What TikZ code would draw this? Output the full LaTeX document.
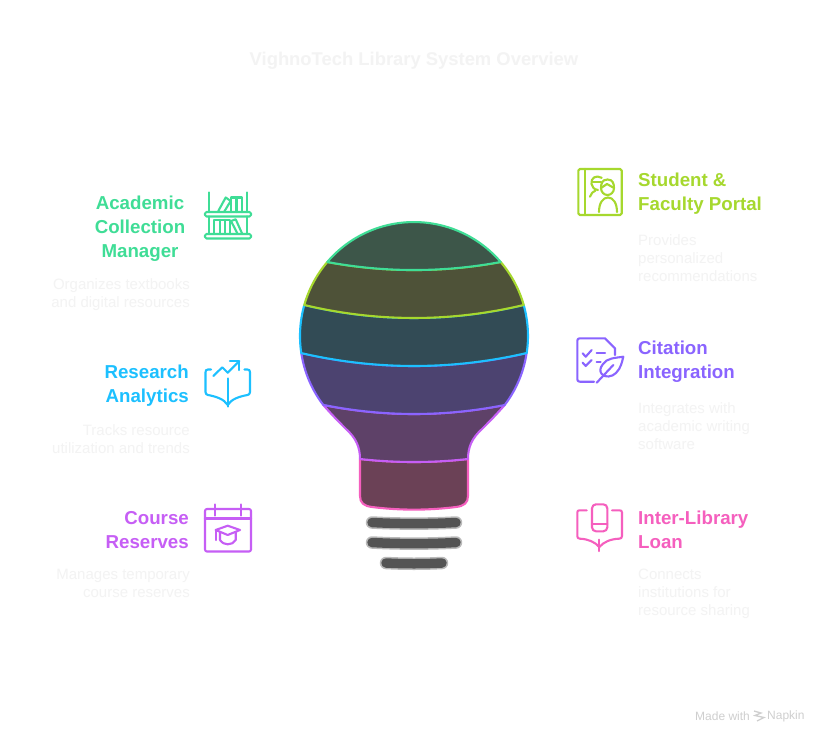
\documentclass[tikz,border=0pt]{standalone}
\usepackage{fontspec}
\setmainfont{Liberation Sans}
\definecolor{cgreen}{HTML}{3FDD96}
\definecolor{clime}{HTML}{A6D82E}
\definecolor{ccyan}{HTML}{1CC0FF}
\definecolor{cpurple}{HTML}{8A64FF}
\definecolor{cviolet}{HTML}{C65EF5}
\definecolor{cpink}{HTML}{F55FBE}
\definecolor{HTMLgreen}{HTML}{3D5649}
\definecolor{HTMLlime}{HTML}{4E5238}
\definecolor{HTMLcyan}{HTML}{324B55}
\definecolor{HTMLpurple}{HTML}{4C4370}
\definecolor{HTMLviolet}{HTML}{5E4168}
\definecolor{HTMLpink}{HTML}{6B4156}
\definecolor{faint}{HTML}{F3F3F3}
\definecolor{brand}{HTML}{CFCFCF}
\tikzset{
  seg/.style={line width=2.1pt,line join=round},
  ico/.style={line width=2.1pt,line cap=round,line join=round},
  head/.style={font=\fontsize{18.7}{24}\selectfont\bfseries,inner sep=0pt},
  headL/.style={head,align=right,anchor=east},
  headR/.style={head,align=left,anchor=west},
  desc/.style={font=\fontsize{15}{18}\selectfont,text=faint,inner sep=0pt},
  descL/.style={desc,align=right,anchor=east},
  descR/.style={desc,align=left,anchor=west},
  barout/.style={line width=12.5pt,line cap=round,draw=black!27},
  barin/.style={line width=9.5pt,line cap=round,draw=black!67},
}
\begin{document}
\begin{tikzpicture}[x=1pt,y=1pt,yscale=-1]
\useasboundingbox[fill=white] (0,0) rectangle (828,744);
\coordinate (pA) at (327.3,262);
\coordinate (pB) at (500.7,262);
% title
\node[font=\fontsize{18.4}{24}\selectfont\bfseries,text=faint,inner sep=0pt] (title) at (414,61) {VighnoTech Library System Overview};
% bulb, bottom to top
\draw[seg,draw=cpink,fill=HTMLpink] (360,459) .. controls (396,463) and (432,463) .. (468,459) -- (468,496)
  .. controls (468,503) and (464,506) .. (456,507) .. controls (428,510.5) and (400,510.5) .. (372,507)
  .. controls (364,506) and (360,503) .. (360,496) -- cycle;
\draw[seg,draw=cviolet,fill=HTMLviolet] (323.3,405) .. controls (332,415) and (340,423) .. (346,429)
  .. controls (356,438) and (360,447) .. (360,459) .. controls (396,463) and (432,463) .. (468,459)
  .. controls (468,447) and (472,438) .. (482,429) .. controls (488,423) and (496,415) .. (504.7,405)
  .. controls (444,417) and (384,417) .. (323.3,405) -- cycle;
\draw[seg,draw=cpurple,fill=HTMLpurple] (301.3,353) arc[start angle=171.4,end angle=142.8,radius=114pt]
  .. controls (384,417) and (444,417) .. (504.7,405) arc[start angle=37.2,end angle=8.6,radius=114pt]
  .. controls (452,370.3) and (376,370.3) .. (301.3,353) -- cycle;
\draw[seg,draw=ccyan,fill=HTMLcyan] (304.3,305) arc[start angle=195.8,end angle=171.4,radius=114pt]
  .. controls (376,370.3) and (452,370.3) .. (526.7,353) arc[start angle=8.6,end angle=-15.8,radius=114pt]
  .. controls (451,322.3) and (377,322.3) .. (304.3,305) -- cycle;
\draw[seg,draw=clime,fill=HTMLlime] (pA) arc[start angle=220.5,end angle=195.8,radius=114pt]
  .. controls (377,322.3) and (451,322.3) .. (523.7,305) arc[start angle=-15.8,end angle=-40.5,radius=114pt]
  .. controls (443,272.7) and (385,272.7) .. (pA) -- cycle;
\draw[seg,draw=cgreen,fill=HTMLgreen] (pA) arc[start angle=220.5,end angle=319.5,radius=114pt]
  .. controls (443,272.7) and (385,272.7) .. (pA) -- cycle;
% base bars
\draw[barout] (372,522.5) .. controls (400,524) and (428,524) .. (456,522.5);
\draw[barin]  (372,522.5) .. controls (400,524) and (428,524) .. (456,522.5);
\draw[barout] (372,542.5) .. controls (400,544) and (428,544) .. (456,542.5);
\draw[barin]  (372,542.5) .. controls (400,544) and (428,544) .. (456,542.5);
\draw[barout] (386,563) .. controls (405,564) and (423,564) .. (442,563);
\draw[barin]  (386,563) .. controls (405,564) and (423,564) .. (442,563);
% left labels
\node[head,align=center,text=cgreen] (lab1) at (140,229) {Academic\\Collection\\Manager};
\node[descL] (des1) at (190,295) {Organizes textbooks\\and digital resources};
\node[headL,text=ccyan] (lab2) at (189,386) {Research\\Analytics};
\node[descL] (des2) at (190,439) {Tracks resource\\utilization and trends};
\node[headL,text=cviolet] (lab3) at (189,530) {Course\\Reserves};
\node[descL] (des3) at (190,583) {Manages temporary\\course reserves};
% right labels
\node[headR,text=clime] (lab4) at (638,194) {Student \&\\Faculty Portal};
\node[descR] (des4) at (638,258) {Provides\\personalized\\recommendations};
\node[headR,text=cpurple] (lab5) at (638,362) {Citation\\Integration};
\node[descR] (des5) at (638,426) {Integrates with\\academic writing\\software};
\node[headR,text=cpink] (lab6) at (638,530) {Inter-Library\\Loan};
\node[descR] (des6) at (638,594) {Connects\\institutions for\\resource sharing};
% shelves icon
\begin{scope}[ico,draw=cgreen]
\draw (209,192.5) -- (209,212) (247,192.5) -- (247,212) (209,216.5) -- (209,234) (247,216.5) -- (247,234);
\draw[rounded corners=1.5pt] (205,212) rectangle (251,216.5);
\draw[rounded corners=1.5pt] (205,234) rectangle (251,238.5);
\draw (218.3,211) -- (225.7,197.5) -- (230.7,201) -- (224,212);
\draw (231,212) -- (231,197.5) -- (242,197.5) -- (242,212) (236.5,197.5) -- (236.5,212);
\draw (214,234) -- (214,220) -- (230,220) -- (230,234) (220,220) -- (220,234) (225,220) -- (225,234);
\draw (237.7,234) -- (231,221) -- (235.7,219.3) -- (242.3,234);
\end{scope}
% analytics icon
\begin{scope}[ico,draw=ccyan]
\draw (211,369.5) -- (208,369.5) .. controls (206,369.5) and (205.5,370.5) .. (205.5,372.5) -- (205.5,392)
  .. controls (205.5,394) and (206.5,394.5) .. (208,395) .. controls (216,396.5) and (224,399) .. (227.7,405)
  .. controls (231.4,399) and (239.4,396.5) .. (247.4,395) .. controls (249,394.5) and (250,394) .. (250,392)
  -- (250,372.5) .. controls (250,370.5) and (249.4,369.5) .. (247.4,369.5) -- (244.4,369.5);
\draw (227.7,378.5) -- (227.7,406.5);
\draw (213.3,376) -- (222.3,367.3) -- (227.7,372.7) -- (239.3,361);
\draw (230,361) -- (239.3,361) -- (239.3,370);
\end{scope}
% calendar icon
\begin{scope}[ico,draw=cviolet]
\draw[rounded corners=2pt] (205,509) rectangle (251,551.5);
\draw (205,518.5) -- (251,518.5);
\draw (215,504.5) -- (215,515.5) (240.7,504.5) -- (240.7,515.5);
\draw (215.7,530) -- (227.7,525.7) -- (240,530) -- (227.7,535) -- cycle;
\draw (220,532.3) -- (220,540) .. controls (222,543) and (225,544.3) .. (227.7,544.3)
  .. controls (231,544.3) and (234,543) .. (235.7,540) -- (235.7,532.3);
\draw (215.7,530) -- (215.7,540);
\end{scope}
% portal icon
\begin{scope}[ico,draw=clime]
\draw[rounded corners=1.5pt] (578.3,169) rectangle (621.7,215);
\draw (585,169) -- (585,215);
\draw (601.7,177.8) .. controls (596,174.5) and (590.5,178) .. (591.5,184) .. controls (592,187) and (594,189.5) .. (598,190);
\draw (590,196.7) .. controls (591,193.5) and (593,191.5) .. (595.5,190.5);
\draw (592.5,182) -- (601,182);
\draw (607.5,179.5) .. controls (602,179.5) and (601,184) .. (601,188) .. controls (601,192) and (604,195) .. (607.5,195)
  .. controls (611,195) and (614,192) .. (614,188) .. controls (614,184) and (613,179.5) .. (607.5,179.5) -- cycle;
\draw (601,188) -- (607,184) -- (614,188);
\draw (599,212) .. controls (599,203) and (603,197.5) .. (608,197.5) .. controls (613,197.5) and (617,203) .. (617,212);
\end{scope}
% citation icon
\begin{scope}[ico,draw=cpurple]
\draw (594,381.7) -- (580,381.7) .. controls (578,381.7) and (577.3,381) .. (577.3,379) -- (577.3,341)
  .. controls (577.3,339) and (578,338.3) .. (580,338.3) -- (605,338.3) -- (615,348.3) -- (615,355);
\draw (582.7,353.3) -- (585.7,356.7) -- (591.7,350);
\draw (582.7,362.7) -- (585.7,366) -- (591.7,360);
\draw (596.7,352.7) -- (605,352.7) (596.7,362.3) -- (600.7,362.3);
\draw (623.3,356.7) .. controls (615,358) and (607,358) .. (603,364) .. controls (600,368) and (599.5,371) .. (601.7,374)
  .. controls (605,378) and (612,377) .. (616,373) .. controls (621,368) and (622,362) .. (623.3,356.7) -- cycle;
\draw (596.7,382.7) -- (613.3,365);
\end{scope}
% loan icon
\begin{scope}[ico,draw=cpink]
\draw[rounded corners=4pt] (592,504.3) rectangle (607.3,531.3);
\draw (592,524.3) -- (607.3,524.3);
\draw (586.7,510.3) -- (579.5,510.3) .. controls (578,510.3) and (577.3,511) .. (577.3,512.5) -- (577.3,536)
  .. controls (577.3,538) and (578,538.5) .. (580,538.7) .. controls (588,539) and (595,542) .. (599.3,547)
  .. controls (603.6,542) and (610.6,539) .. (619,538.7) .. controls (621,538.5) and (622,538) .. (622,536)
  -- (622,512.5) .. controls (622,511) and (621,510.3) .. (619.5,510.3) -- (612,510.3);
\draw (599.3,539.7) -- (599.3,551);
\end{scope}
% brand
\node[font=\fontsize{12}{13}\selectfont,text=brand,inner sep=0pt,anchor=west] (made) at (695,716.5) {Made with};
\node[font=\fontsize{12}{13}\selectfont,text=brand,inner sep=0pt,anchor=west] (nap) at (767,716.5) {Napkin};
\draw[brand,line width=1.3pt] (754,711) -- (761,713) -- (755,715.5) -- (764,717.5) -- (757,721);
\end{tikzpicture}
\end{document}
